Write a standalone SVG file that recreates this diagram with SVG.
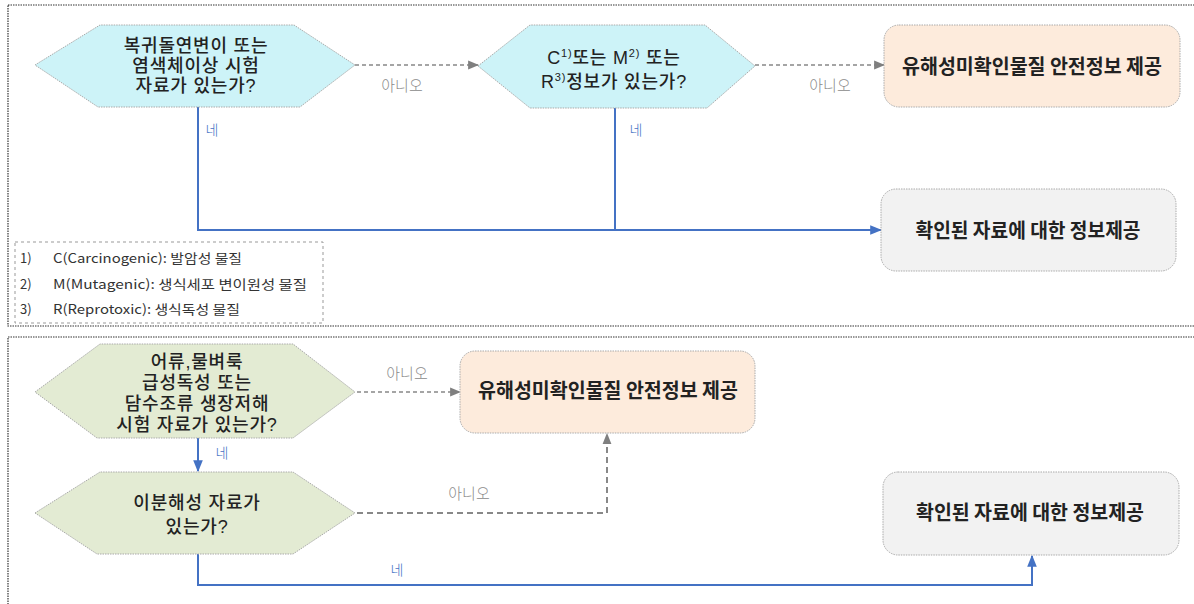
<svg xmlns="http://www.w3.org/2000/svg" width="1194" height="604" viewBox="0 0 1194 604">
<defs>
<marker id="ab" markerUnits="userSpaceOnUse" markerWidth="12" markerHeight="12" viewBox="0 0 10 10" refX="9" refY="5" orient="auto"><path d="M0,1 L10,5 L0,9 z" fill="#4472c4"/></marker>
<marker id="ag" markerUnits="userSpaceOnUse" markerWidth="11" markerHeight="11" viewBox="0 0 10 10" refX="9" refY="5" orient="auto"><path d="M0,1 L10,5 L0,9 z" fill="#7f7f7f"/></marker>
</defs>
<style>
.panel{fill:none;stroke:#333;stroke-width:1.2;stroke-dasharray:1.5 1}
.hexc{fill:#cdf3f8;stroke:#aaa;stroke-width:1;stroke-dasharray:1.5 1}
.hexg{fill:#e3ebd3;stroke:#aaa;stroke-width:1;stroke-dasharray:1.5 1}
.ro{fill:#fdebdc;stroke:#aaa;stroke-width:1;stroke-dasharray:1.5 1}
.rg{fill:#f2f2f2;stroke:#aaa;stroke-width:1;stroke-dasharray:1.5 1}
.ht{font-family:"Liberation Sans","Noto Sans CJK KR",sans-serif;font-size:18px;font-weight:500;letter-spacing:0.8px;fill:#222;text-anchor:middle}
.rt{font-family:"Noto Sans CJK KR","Liberation Sans",sans-serif;font-size:20px;font-weight:700;fill:#222;text-anchor:middle}
.blue{fill:none;stroke:#4472c4;stroke-width:2}
.gray{fill:none;stroke:#888;stroke-width:1.5;stroke-dasharray:4 3}
.gray2{fill:none;stroke:#888;stroke-width:2;stroke-dasharray:6 4}
.no{font-family:"Noto Sans CJK KR",sans-serif;font-size:15px;font-weight:300;fill:#8a8a8a;text-anchor:middle}
.yes{font-family:"Noto Sans CJK KR",sans-serif;font-size:14px;font-weight:300;fill:#4472c4;text-anchor:middle}
.lg{font-family:"Noto Sans CJK KR","Liberation Sans",sans-serif;font-size:13px;fill:#333}
</style>
<rect class="panel" x="8" y="5" width="1200" height="321"/>
<rect class="panel" x="8" y="337" width="1200" height="290"/>

<g id="legend">
<rect x="15" y="242" width="308" height="81" fill="none" stroke="#999" stroke-width="1" stroke-dasharray="3 3"/>
<text class="lg" x="20" y="263">1)</text>
<text class="lg" x="53" y="263" textLength="189" lengthAdjust="spacingAndGlyphs">C(Carcinogenic): 발암성 물질</text>
<text class="lg" x="20" y="289">2)</text>
<text class="lg" x="53" y="289" textLength="254" lengthAdjust="spacingAndGlyphs">M(Mutagenic): 생식세포 변이원성 물질</text>
<text class="lg" x="20" y="314">3)</text>
<text class="lg" x="53" y="314" textLength="187" lengthAdjust="spacingAndGlyphs">R(Reprotoxic): 생식독성 물질</text>
</g>

<g id="connectors">
<path class="gray" d="M355,65 H478" marker-end="url(#ag)"/>
<path class="gray" d="M755,65 H884" marker-end="url(#ag)"/>
<path class="blue" d="M198,107 V230 H881" marker-end="url(#ab)"/>
<path class="blue" d="M615,108 V230"/>
<path class="gray" d="M357,392 H460" marker-end="url(#ag)"/>
<path class="blue" d="M198,438 V471" marker-end="url(#ab)"/>
<path class="gray2" d="M357,513 H607 V434" marker-end="url(#ag)"/>
<path class="blue" d="M198,554 V585 H1032 V556" marker-end="url(#ab)"/>
<text class="no" x="402" y="91">아니오</text>
<text class="no" x="830" y="91">아니오</text>
<text class="yes" x="212" y="135">네</text>
<text class="yes" x="636" y="135">네</text>
<text class="no" x="407" y="379">아니오</text>
<text class="yes" x="222" y="458">네</text>
<text class="no" x="469" y="499">아니오</text>
<text class="yes" x="397" y="575">네</text>
</g>

<g id="hex1">
<polygon class="hexc" points="35,65 100,25 294,25 355,65 300,107 98,107"/>
<text class="ht" x="196" y="52">복귀돌연변이 또는</text>
<text class="ht" x="196" y="72">염색체이상 시험</text>
<text class="ht" x="196" y="92">자료가 있는가?</text>
</g>

<g id="hex2">
<polygon class="hexc" points="478,66 530,25 705,25 755,66 707,108 530,108"/>
<text class="ht" x="614" y="64" letter-spacing="0">C<tspan font-size="11" dy="-7">1)</tspan><tspan dy="7">또는 M</tspan><tspan font-size="11" dy="-7">2)</tspan><tspan dy="7"> 또는</tspan></text>
<text class="ht" x="614" y="88" letter-spacing="0">R<tspan font-size="11" dy="-7">3)</tspan><tspan dy="7">정보가 있는가?</tspan></text>
</g>

<g id="rect1">
<rect class="ro" x="884" y="25" width="296" height="82" rx="15"/>
<text class="rt" x="1032" y="74" textLength="260" lengthAdjust="spacingAndGlyphs">유해성미확인물질 안전정보 제공</text>
</g>

<g id="rect2">
<rect class="rg" x="881" y="189" width="295" height="82" rx="15"/>
<text class="rt" x="1028" y="238" textLength="225" lengthAdjust="spacingAndGlyphs">확인된 자료에 대한 정보제공</text>
</g>

<g id="hex3">
<polygon class="hexg" points="35,392 100,344 293,344 355,392 293,438 97,438"/>
<text class="ht" x="197" y="368">어류,물벼룩</text>
<text class="ht" x="197" y="389">급성독성 또는</text>
<text class="ht" x="197" y="410">담수조류 생장저해</text>
<text class="ht" x="197" y="431">시험 자료가 있는가?</text>
</g>

<g id="hex4">
<polygon class="hexg" points="35,513 100,472 293,472 355,513 293,554 97,554"/>
<text class="ht" x="197" y="509">이분해성 자료가</text>
<text class="ht" x="197" y="533">있는가?</text>
</g>

<g id="rect3">
<rect class="ro" x="460" y="351" width="295" height="82" rx="15"/>
<text class="rt" x="608" y="398" textLength="260" lengthAdjust="spacingAndGlyphs">유해성미확인물질 안전정보 제공</text>
</g>

<g id="rect4">
<rect class="rg" x="883" y="472" width="296" height="83" rx="15"/>
<text class="rt" x="1030" y="520" textLength="228" lengthAdjust="spacingAndGlyphs">확인된 자료에 대한 정보제공</text>
</g>
</svg>
